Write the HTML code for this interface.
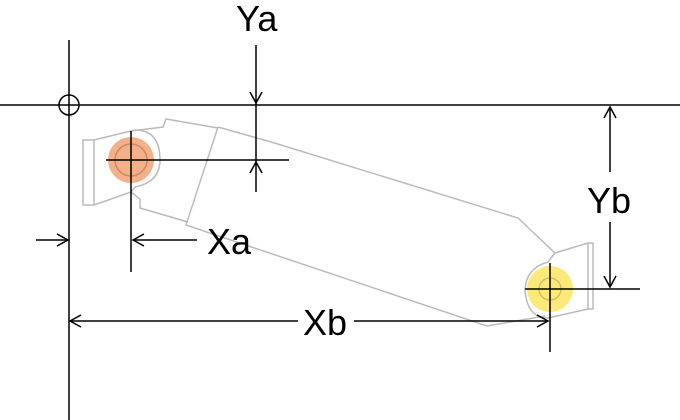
<!DOCTYPE html>
<html><head><style>body{margin:0;background:#fff}svg{display:block}</style></head><body>
<svg width="680" height="420" viewBox="0 0 680 420" xmlns="http://www.w3.org/2000/svg" font-family="Liberation Sans, sans-serif">
<g fill="none" stroke="#bbb" stroke-width="1.5">
<path d="M83,140 L94,140 L94,205 L83,205 Z"/>
<path d="M94,140 L135,130 Q160,130 160,160 Q160,182 135,187 L131,192"/>
<path d="M94,205 L131,192"/>
<path d="M131,131 L163,127 L166,119 L218,128"/>
<path d="M131,192 L140,199 L140,208 L188,222"/>
<path d="M218,127 L186,225 L487,326 L545,316"/>
<path d="M218,127 L264,140 L268,141 L518,218 L555,253 L588,243 L593,243 L593,309 L588,309 L548,318 Q527,318 525,290 Q526,268 548,262 L555,253"/>
<path d="M588,243 L588,309"/>
</g>
<circle cx="131" cy="160" r="23" fill="#f2a77c" opacity="0.9"/>
<circle cx="131" cy="160" r="16" fill="none" stroke="#c98a6a" stroke-width="1.5"/>
<circle cx="550" cy="289" r="23" fill="#fbe97a"/>
<circle cx="550" cy="289" r="11" fill="none" stroke="#d2c060" stroke-width="1.5"/>
<g stroke="#000" stroke-width="1.5" fill="none">
<line x1="69" y1="40" x2="69" y2="420"/>
<line x1="0" y1="105" x2="680" y2="105"/>
<circle cx="69" cy="105" r="10"/>
<line x1="106" y1="160" x2="289" y2="160"/>
<line x1="131" y1="131" x2="131" y2="272"/>
<line x1="256" y1="45" x2="256" y2="192"/><path d="M250,92 L256,103 L262,92"/>
<path d="M250,173 L256,162 L262,173"/>
<line x1="36" y1="240" x2="68" y2="240"/><path d="M57,234 L68,240 L57,246"/>
<line x1="133" y1="240" x2="197" y2="240"/><path d="M144,234 L133,240 L144,246"/>
<line x1="525" y1="289" x2="640" y2="289"/>
<line x1="550" y1="263" x2="550" y2="352"/>
<line x1="610" y1="107" x2="610" y2="172"/><path d="M604,118 L610,107 L616,118"/>
<line x1="610" y1="222" x2="610" y2="287"/><path d="M604,276 L610,287 L616,276"/>
<line x1="70" y1="321" x2="298" y2="321"/><path d="M81,315 L70,321 L81,327"/>
<line x1="354" y1="321" x2="548" y2="321"/><path d="M537,315 L548,321 L537,327"/>
</g>
<g font-size="36" fill="#000">
<text x="236" y="31">Ya</text>
<text x="207" y="254">Xa</text>
<text x="587" y="213">Yb</text>
<text x="303" y="335">Xb</text>
</g>
</svg>
</body></html>
